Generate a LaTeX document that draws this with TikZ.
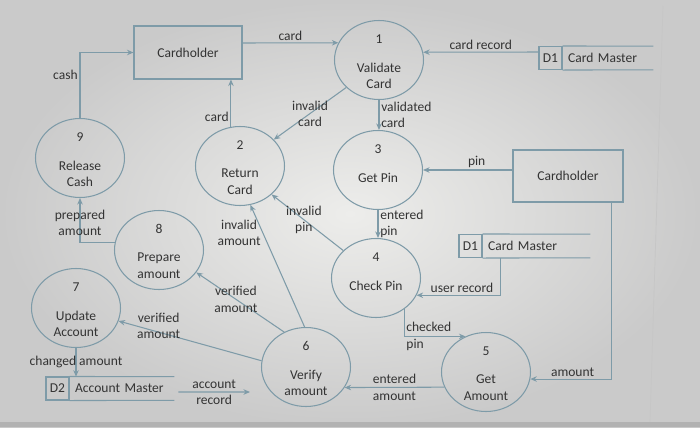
\documentclass[tikz,border=0pt]{standalone}
\usepackage{fontspec}
\setmainfont{Carlito}
\usepackage{xcolor}
\usetikzlibrary{arrows.meta,positioning,calc,shapes.geometric}
\definecolor{flowc}{HTML}{7E9BA8}
\definecolor{txtc}{HTML}{333333}
\definecolor{pagec}{HTML}{EDEDEB}
\definecolor{edgec}{HTML}{CACACA}

\begin{document}
\begin{tikzpicture}[
  x=0.02cm, y=-0.02cm,
  font=\fontsize{7.7}{9.3}\selectfont,
  text=txtc,
  proc/.style={draw=flowc, ellipse, minimum width=1.78cm, minimum height=1.58cm, line width=0.6pt},
  ent/.style={draw=flowc, line width=0.6pt, inner sep=0pt},
  sid/.style={draw=flowc, line width=0.6pt, minimum width=0.46cm, minimum height=0.46cm, inner sep=0pt},
  sname/.style={anchor=west, inner xsep=3pt, inner ysep=0pt, minimum height=0.46cm, text width=#1, align=left},
  num/.style={inner sep=1pt},
  pname/.style={anchor=north, align=center, inner sep=1pt},
  flow/.style={draw=flowc, line width=0.6pt, -{Stealth[length=1.3mm, width=1.1mm]}},
  lbl/.style={inner sep=1pt, align=center}
]
\useasboundingbox (0,0) rectangle (700,427);
% photo background
\shade[inner color=pagec, outer color=edgec] (0,0) rectangle (700,427);
\draw[gray!45, line width=0.4pt] (663,6) -- (650,422);
\fill[gray!60] (0,422) rectangle (700,427);

% external entities
\node[ent, minimum width=2.16cm, minimum height=1.06cm] (ch1) at (188,52.5) {Cardholder};
\node[ent, minimum width=2.2cm, minimum height=1.04cm] (ch2) at (568,176) {Cardholder};

% processes
\node[proc] (p1) at (379,60) {};
\node[num] at ([yshift=0.42cm]p1.center) {1};
\node[pname] at ([yshift=-0.02cm]p1.center) {Validate\\Card};
\node[proc] (p2) at (240,166) {};
\node[num] at ([yshift=0.42cm]p2.center) {2};
\node[pname] at ([yshift=-0.02cm]p2.center) {Return\\Card};
\node[proc] (p3) at (378,170) {};
\node[num] at ([yshift=0.42cm]p3.center) {3};
\node[pname] at ([yshift=-0.02cm]p3.center) {Get Pin};
\node[proc] (p4) at (376,278) {};
\node[num] at ([yshift=0.42cm]p4.center) {4};
\node[pname] at ([yshift=-0.02cm]p4.center) {Check Pin};
\node[proc] (p5) at (486,372) {};
\node[num] at ([yshift=0.42cm]p5.center) {5};
\node[pname] at ([yshift=-0.02cm]p5.center) {Get\\Amount};
\node[proc] (p6) at (306,367) {};
\node[num] at ([yshift=0.42cm]p6.center) {6};
\node[pname] at ([yshift=-0.02cm]p6.center) {Verify\\amount};
\node[proc] (p7) at (76,308) {};
\node[num] at ([yshift=0.42cm]p7.center) {7};
\node[pname] at ([yshift=-0.02cm]p7.center) {Update\\Account};
\node[proc] (p8) at (159,250) {};
\node[num] at ([yshift=0.42cm]p8.center) {8};
\node[pname] at ([yshift=-0.02cm]p8.center) {Prepare\\amount};
\node[proc] (p9) at (80,158) {};
\node[num] at ([yshift=0.42cm]p9.center) {9};
\node[pname] at ([yshift=-0.02cm]p9.center) {Release\\Cash};

% data stores
\node[sid] (s1a) at (550.5,58) {D1};
\node[sname=1.59cm] (s1an) at (s1a.east) {Card Master};
\draw[flowc, line width=0.6pt] (s1a.north east) -- (s1an.north east) (s1a.south east) -- (s1an.south east);
\node[sid] (s1b) at (470.5,246) {D1};
\node[sname=1.93cm] (s1bn) at (s1b.east) {Card Master};
\draw[flowc, line width=0.6pt] (s1b.north east) -- (s1bn.north east) (s1b.south east) -- (s1bn.south east);
\node[sid] (s2) at (57.5,388.5) {D2};
\node[sname=1.87cm] (s2n) at (s2.east) {Account Master};
\draw[flowc, line width=0.6pt] (s2.north east) -- (s2n.north east) (s2.south east) -- (s2n.south east);
\coordinate (arend) at (250,392);

% data flows
\draw[flow] ($(ch1.east)+(0,-9.5)$) -- node[lbl, above]{card} (p1.157);
\draw[flow] ($(s1a.west)+(0,-6)$) -- node[lbl, above]{card record} (p1.10);
\draw[flow] (p1.south) -- node[lbl, right, align=left]{validated\\card} (p1.south |- p3.north);
\draw[flow] (p1.220) -- node[lbl]{invalid\\card} (p2.38);
\draw[flow] (p2.103) -- node[lbl, left, pos=0.2]{card} (p2.103 |- ch1.south);
\draw[flow] (p9.north) |- node[lbl, left, pos=0.33]{cash} (ch1.west);
\draw[flow] (ch2.west |- p3.east) -- node[lbl, above, pos=0.4]{pin} (p3.east);
\draw[flow] (p3.south) -- node[lbl, right, align=left]{entered\\pin} (p3.south |- p4.north);
\draw[flow] (p4.140) -- node[lbl, pos=0.55]{invalid\\pin} (p2.318);
\draw[flow] ($(s1bn.south west)+(18,0)$) |- node[lbl, above, pos=0.73]{user record} (p4.337);
\draw[flow] (p4.312) |- node[lbl, anchor=west, align=left]{checked\\pin} (p5.120);
\draw[flow] ($(ch2.south east)+(-12,0)$) |- node[lbl, above, pos=0.74]{amount} (p5.351);
\draw[flow] (p5.200) -- node[lbl]{entered\\amount} (p6.332);
\draw[flow] (p6.92) -- node[lbl, left, pos=0.77]{invalid\\amount} (p2.285);
\draw[flow] (p6.122) -- node[lbl, pos=0.55]{verified\\amount} (p8.329);
\draw[flow] (p6.172) -- node[lbl, pos=0.72, yshift=0.12cm]{verified\\amount} (p7.343);
\draw[flow] (p8.170) -| node[lbl, pos=0.72]{prepared\\amount} (p9.south);
\draw[flow] (p7.south) -- node[lbl]{changed amount} (p7.south |- s2n.north);
\draw[flow] ($(s2n.east)+(4,3.5)$) -- node[lbl]{account\\record} (arend);
\end{tikzpicture}
\end{document}
